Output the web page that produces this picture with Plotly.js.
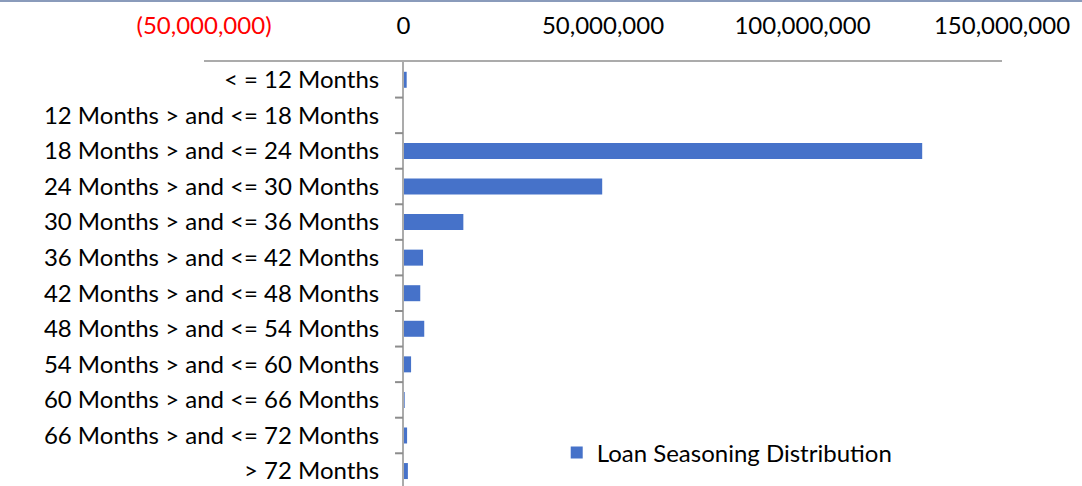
<!DOCTYPE html>
<html>
<head>
<meta charset="utf-8">
<script src="https://cdn.plot.ly/plotly-3.0.1.min.js"></script>
<style>
html,body{margin:0;padding:0;background:#fff;}
#wrap{width:1082px;height:486px;box-sizing:border-box;border-top:2px solid #8a9bbb;}
#chart{width:1082px;height:484px;}
</style>
</head>
<body>
<div id="wrap"><div id="chart"></div></div>
<script>
const categories = [
  "< = 12 Months",
  "12 Months > and <= 18 Months",
  "18 Months > and <= 24 Months",
  "24 Months > and <= 30 Months",
  "30 Months > and <= 36 Months",
  "36 Months > and <= 42 Months",
  "42 Months > and <= 48 Months",
  "48 Months > and <= 54 Months",
  "54 Months > and <= 60 Months",
  "60 Months > and <= 66 Months",
  "66 Months > and <= 72 Months",
  "> 72 Months"
];
const values = [800000, 0, 130000000, 49800000, 15000000, 4900000, 4200000, 5200000, 1900000, 300000, 900000, 1100000];
const xTickVals = [-50000000, 0, 50000000, 100000000, 150000000];
const xTickText = ['<span style="color:#ff0000">(50,000,000)</span>', '0', '50,000,000', '100,000,000', '150,000,000'];
const seriesName = "Loan Seasoning Distribution";

const idx = categories.map((c, i) => i);
const FONT = "Lato, 'Open Sans', sans-serif";

const trace = {
  type: 'bar',
  orientation: 'h',
  x: values,
  y: idx,
  name: seriesName,
  marker: {color: '#4672c9', line: {width: 0}},
  showlegend: true,
  hoverinfo: 'x+text',
  text: categories,
  textposition: 'none'
};

const layout = {
  width: 1082,
  height: 484,
  margin: {l: 204, r: 80, t: 60, b: 0, pad: 0},
  paper_bgcolor: '#fff',
  plot_bgcolor: '#fff',
  bargap: 0.55,
  font: {family: FONT, size: 24, color: '#000'},
  xaxis: {
    side: 'top',
    range: [-50000000, 150000000],
    tickvals: xTickVals,
    ticktext: xTickText,
    showgrid: false,
    zeroline: false,
    showline: true,
    linecolor: '#ababab',
    linewidth: 2,
    ticks: '',
    ticklabelstandoff: 16,
    tickfont: {family: FONT, size: 24, color: '#000'}
  },
  yaxis: {
    anchor: 'free',
    position: 0.2494,
    range: [11.42, -0.5],
    tickvals: idx,
    ticktext: categories,
    showgrid: false,
    zeroline: false,
    showline: true,
    linecolor: '#ababab',
    linewidth: 2,
    ticks: '',
    ticklabelstandoff: 18,
    tickfont: {family: FONT, size: 24, color: '#000'}
  },
  shapes: idx.slice(0, 11).map(i => ({
    type: 'line', xref: 'paper', yref: 'y',
    x0: 0.2394, x1: 0.2494, y0: i + 0.5, y1: i + 0.5,
    line: {color: '#8c8c8c', width: 2}
  })),
  legend: {
    x: 0.442, xanchor: 'left',
    y: 0.078, yanchor: 'middle',
    bgcolor: 'rgba(0,0,0,0)',
    font: {family: FONT, size: 24, color: '#000'},
    itemwidth: 30
  }
};

Plotly.newPlot('chart', [trace], layout, {displayModeBar: false, staticPlot: true});
</script>
</body>
</html>
